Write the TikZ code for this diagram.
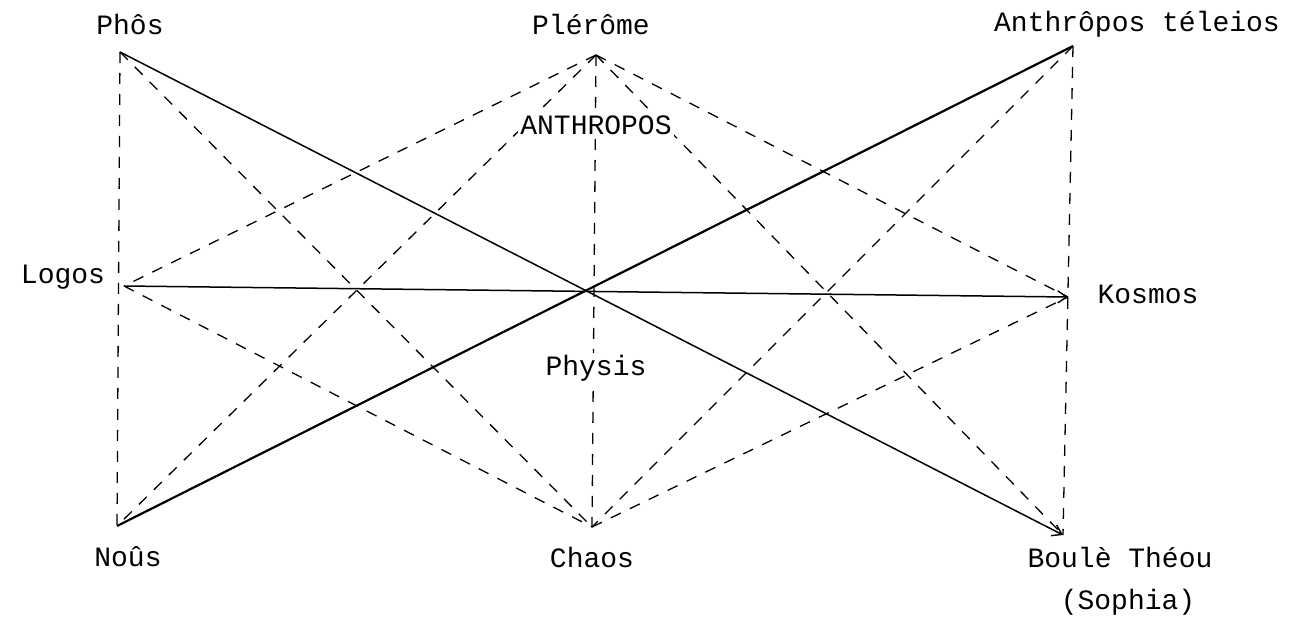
\documentclass[tikz,border=0pt]{standalone}
\usepackage{fontspec}
\setmonofont{Liberation Mono}
\usetikzlibrary{arrows.meta}
\begin{document}
\begin{tikzpicture}[x=1pt,y=-1pt,
  lbl/.style={font=\ttfamily\fontsize{28}{32}\selectfont, inner sep=2pt},
  dsh/.style={line width=1.3pt, dash pattern=on 11pt off 10pt},
  sol/.style={line width=1.5pt},
  arr/.style={-{Straight Barb[length=9pt,width=12pt,line width=1.4pt]}}]
\useasboundingbox (0,0) rectangle (1299,623);
% points
\coordinate (phos) at (120,52);
\coordinate (pler) at (596,55);
\coordinate (anth) at (1073,46);
\coordinate (logos) at (124,286);
\coordinate (cen) at (594,292);
\coordinate (kos) at (1068,297);
\coordinate (nous) at (117,526);
\coordinate (chaos) at (592,527);
\coordinate (boule) at (1063,535);
% dashed lines
\draw[dsh] (phos) -- (nous);
\draw[dsh] (anth) -- (boule);
\draw[dsh] (pler) -- (chaos);
\draw[dsh] (phos) -- (chaos);
\draw[dsh] (pler) -- (logos);
\draw[dsh] (pler) -- (nous);
\draw[dsh] (pler) -- (kos);
\draw[dsh] (pler) -- (boule);
\draw[dsh] (anth) -- (chaos);
\draw[dsh] (logos) -- (chaos);
\draw[dsh] (chaos) -- (kos);
% solid lines
\draw[sol,arr] (phos) -- (boule);
\draw[sol,arr] (logos) -- (kos);
\draw[line width=2.2pt] (nous) -- (anth);
% labels
\node[lbl] (tphos) at (130,24) {Phôs};
\node[lbl] (tpler) at (591,24) {Plérôme};
\node[lbl] (tanth) at (1137,24) {Anthrôpos téleios};
\node[lbl] (tlogos) at (63,277) {Logos};
\node[lbl,fill=white] (tanthropos) at (596,125) {ANTHROPOS};
\node[lbl] (tkos) at (1148,294) {Kosmos};
\node[lbl,fill=white] (tphys) at (596,368) {Physis};
\node[lbl] (tnous) at (128,557) {Noûs};
\node[lbl] (tchaos) at (592,557) {Chaos};
\node[lbl] (tboule) at (1120,557) {Boulè Théou};
\node[lbl] (tsoph) at (1128,602) {(Sophia)};
\end{tikzpicture}
\end{document}
